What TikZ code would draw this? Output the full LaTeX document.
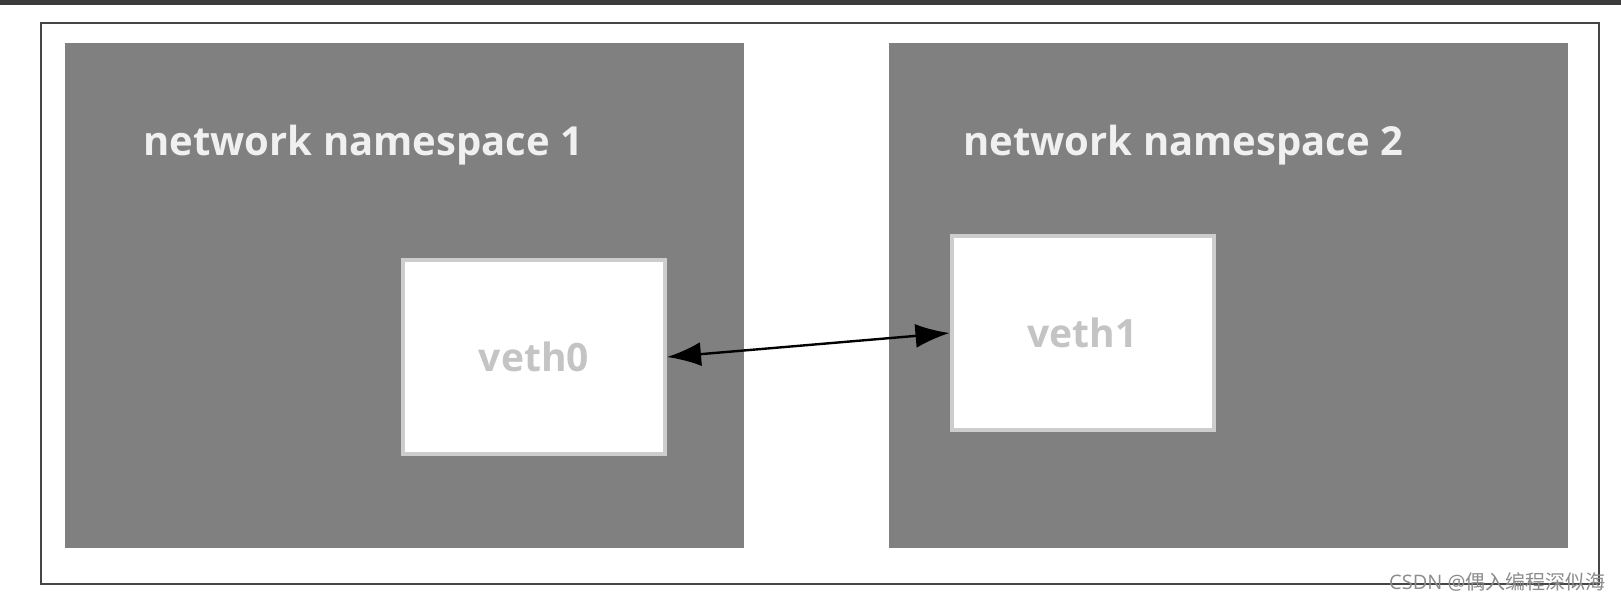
\documentclass[tikz,border=0pt]{standalone}
\usepackage{fontspec}
\setmainfont{Open Sans}
\newfontfamily\cjk{Noto Sans CJK SC}
\usetikzlibrary{arrows.meta}
\definecolor{nsfill}{RGB}{128,128,128}
\definecolor{vethline}{RGB}{205,205,205}
\definecolor{vethtext}{RGB}{196,196,196}
\definecolor{framecol}{RGB}{70,70,70}

\begin{document}
\begin{tikzpicture}[x=0.5pt,y=-0.5pt,
    nsbox/.style={fill=nsfill, inner sep=0pt, minimum width=339.5pt, minimum height=252.5pt},
    nslabel/.style={anchor=base west, inner sep=0pt, text=white!94!black, font=\fontsize{20}{24}\selectfont\bfseries},
    vethbox/.style={draw=vethline, line width=2pt, fill=white, inner sep=0pt,
                    minimum width=131pt, minimum height=97pt},
    vethlabel/.style={text=vethtext, font=\fontsize{19.5}{24}\selectfont\bfseries},
    vethlink/.style={<->, >={Latex[length=17pt,width=12pt]}, line width=1.2pt}]
              \useasboundingbox[fill=white] (0,0) rectangle (1621,602);
              %top strip and outer frame
              \fill[framecol!85!black] (0,0) rectangle (1621,5);
              \draw[framecol, line width=1.2pt] (41,23) rectangle (1599,584);

              \draw (404.5,295.5) node[nsbox] (ns1) {};
              \draw (1228.5,295.5) node[nsbox] (ns2) {};
              \draw (143,155) node[nslabel] (l1) {network namespace 1};
              \draw (963,155) node[nslabel] (l2) {network namespace 2};

              \draw (534,357) node[vethbox] (v0) {};
              \draw (1082.5,333) node[vethbox] (v1) {};
              \draw (v0.center) node[vethlabel] (t0) {veth0};
              \draw (v1.center) node[vethlabel] (t1) {veth1};

              \draw[vethlink] (v0.east)--(v1.west);

              %watermark
              \draw (1606,582) node[anchor=east, inner sep=0pt, text=black!45, font=\fontsize{10}{12}\selectfont] (wm) {CSDN @{\cjk 偶入编程深似海}};
            \end{tikzpicture}
\end{document}
